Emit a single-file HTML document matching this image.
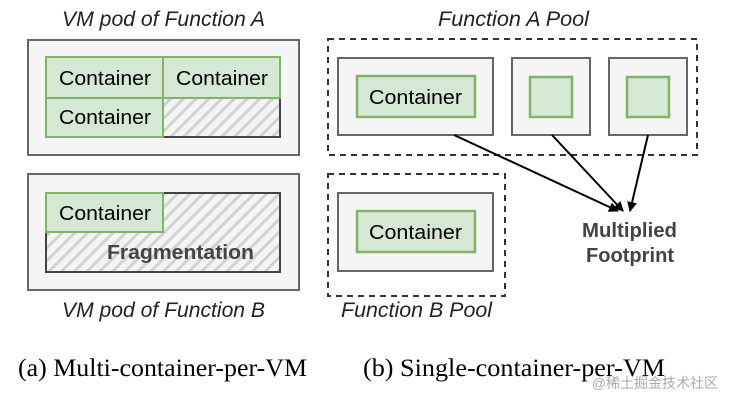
<!DOCTYPE html>
<html><head><meta charset="utf-8"><style>
html,body{margin:0;padding:0;background:#fff;}
svg{display:block;}
</style></head><body>
<svg width="731" height="403" viewBox="0 0 731 403" xmlns="http://www.w3.org/2000/svg">
<defs>
<pattern id="hatch" patternUnits="userSpaceOnUse" width="9" height="9" patternTransform="rotate(45)">
<rect width="9" height="9" fill="#f4f4f4"/>
<rect width="3" height="9" fill="#d2d2d2"/>
</pattern>
<marker id="ah" markerWidth="10" markerHeight="10" refX="9" refY="5" orient="auto" markerUnits="userSpaceOnUse">
<path d="M0,0 L10,5 L0,10 z" fill="#000"/>
</marker>
</defs>
<g font-family="Liberation Sans, sans-serif">
<text x="62" y="26" font-size="21" font-style="italic" fill="#222" textLength="203" lengthAdjust="spacingAndGlyphs">VM pod of Function A</text>
<text x="438" y="26" font-size="21" font-style="italic" fill="#222" textLength="151" lengthAdjust="spacingAndGlyphs">Function A Pool</text>
<text x="62" y="317" font-size="21" font-style="italic" fill="#222" textLength="203" lengthAdjust="spacingAndGlyphs">VM pod of Function B</text>
<text x="341" y="317" font-size="21" font-style="italic" fill="#222" textLength="151" lengthAdjust="spacingAndGlyphs">Function B Pool</text>

<rect x="28" y="40" width="271" height="115" fill="#f5f5f5" stroke="#666" stroke-width="2"/>
<rect x="46" y="57" width="234" height="80" fill="url(#hatch)" stroke="#444" stroke-width="2"/>
<rect x="46" y="57" width="234" height="41" fill="#d5e8d4" stroke="#82b366" stroke-width="2"/>
<rect x="46" y="98" width="117" height="39" fill="#d5e8d4" stroke="#82b366" stroke-width="2"/>
<line x1="163" y1="57" x2="163" y2="98" stroke="#82b366" stroke-width="2"/>
<g font-size="20">
<text x="59" y="85" textLength="92" lengthAdjust="spacingAndGlyphs">Container</text>
<text x="176" y="85" textLength="92" lengthAdjust="spacingAndGlyphs">Container</text>
<text x="59" y="124" textLength="92" lengthAdjust="spacingAndGlyphs">Container</text>
</g>

<rect x="28" y="174" width="271" height="116" fill="#f5f5f5" stroke="#666" stroke-width="2"/>
<rect x="46" y="193" width="234" height="79" fill="url(#hatch)" stroke="#444" stroke-width="2"/>
<rect x="46" y="193" width="117" height="39" fill="#d5e8d4" stroke="#82b366" stroke-width="2"/>
<text x="59" y="220" font-size="20" textLength="92" lengthAdjust="spacingAndGlyphs">Container</text>
<text x="107" y="259" font-size="20" font-weight="bold" fill="#444" textLength="147" lengthAdjust="spacingAndGlyphs">Fragmentation</text>

<rect x="328" y="39" width="369" height="116" fill="none" stroke="#333" stroke-width="2" stroke-dasharray="6,5"/>
<rect x="338" y="58" width="155" height="77" fill="#f5f5f5" stroke="#666" stroke-width="2"/>
<rect x="357" y="76" width="118" height="41" fill="#d5e8d4" stroke="#82b366" stroke-width="2.5"/>
<text x="369" y="104" font-size="20" textLength="93" lengthAdjust="spacingAndGlyphs">Container</text>
<rect x="512" y="58" width="78" height="77" fill="#f5f5f5" stroke="#666" stroke-width="2"/>
<rect x="530" y="77" width="42" height="40" fill="#d5e8d4" stroke="#82b366" stroke-width="2.5"/>
<rect x="609" y="58" width="78" height="77" fill="#f5f5f5" stroke="#666" stroke-width="2"/>
<rect x="627" y="77" width="42" height="40" fill="#d5e8d4" stroke="#82b366" stroke-width="2.5"/>

<rect x="328" y="174" width="177" height="122" fill="none" stroke="#333" stroke-width="2" stroke-dasharray="6,5"/>
<rect x="338" y="193" width="155" height="78" fill="#f5f5f5" stroke="#666" stroke-width="2"/>
<rect x="357" y="211" width="118" height="41" fill="#d5e8d4" stroke="#82b366" stroke-width="2.5"/>
<text x="369" y="239" font-size="20" textLength="93" lengthAdjust="spacingAndGlyphs">Container</text>

<line x1="454" y1="135" x2="618" y2="211" stroke="#000" stroke-width="2" marker-end="url(#ah)"/>
<line x1="552" y1="135" x2="623" y2="211" stroke="#000" stroke-width="2" marker-end="url(#ah)"/>
<line x1="648" y1="135" x2="630" y2="211" stroke="#000" stroke-width="2" marker-end="url(#ah)"/>

<text x="582" y="237" font-size="20" font-weight="bold" fill="#444" textLength="95" lengthAdjust="spacingAndGlyphs">Multiplied</text>
<text x="586" y="262" font-size="20" font-weight="bold" fill="#444" textLength="88" lengthAdjust="spacingAndGlyphs">Footprint</text>
</g>
<g font-family="Liberation Serif, serif" font-size="25" fill="#000">
<text x="18" y="376" textLength="289" lengthAdjust="spacingAndGlyphs">(a)  Multi-container-per-VM</text>
<text x="363" y="376" textLength="302" lengthAdjust="spacingAndGlyphs">(b)  Single-container-per-VM</text>
</g>
<text x="718" y="388" font-family="Liberation Sans, Noto Sans CJK SC, sans-serif" font-size="14" fill="#aaa" text-anchor="end">@稀土掘金技术社区</text>
</svg>
</body></html>
